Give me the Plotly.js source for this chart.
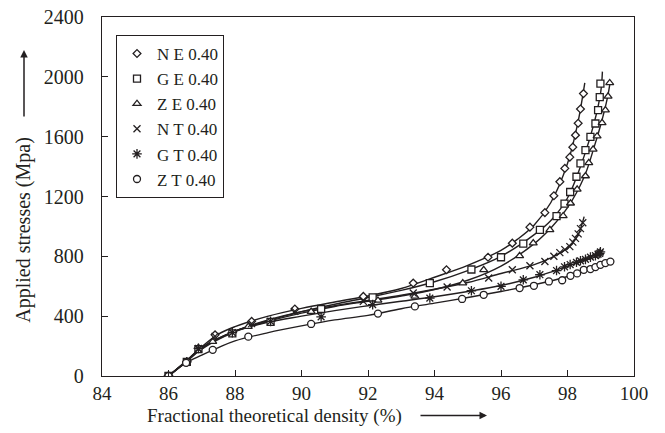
<!DOCTYPE html>
<html>
<head>
<meta charset="utf-8">
<script src="https://cdn.plot.ly/plotly-3.0.1.min.js"></script>
<style>html,body{margin:0;padding:0;background:#fff;}#chart{width:665px;height:433px;}</style>
</head>
<body>
<div id="chart"></div>
<script>
// ---- Data ----
const seriesNames = ["N E 0.40", "G E 0.40", "Z E 0.40", "N T 0.40", "G T 0.40", "Z T 0.40"];

// measured points (markers)
const neX = [86, 86.55, 86.9, 87.4, 88.5, 89.8, 91.86, 93.36, 94.36, 95.61, 96.34, 96.87, 97.32, 97.59, 97.77, 97.92, 98.07, 98.16, 98.24, 98.32, 98.39, 98.48];
const neY = [0, 95, 185, 275, 365, 448, 532, 621, 710, 794, 888, 995, 1092, 1205, 1299, 1388, 1463, 1530, 1610, 1690, 1785, 1888];

const geX = [86, 86.55, 86.9, 87.92, 89.07, 90.59, 92.14, 93.86, 95.11, 96.0, 96.67, 97.17, 97.67, 97.91, 98.08, 98.27, 98.39, 98.54, 98.69, 98.84, 98.92, 98.97, 98.99];
const geY = [0, 95, 180, 285, 362, 448, 526, 621, 712, 794, 885, 977, 1069, 1152, 1230, 1332, 1421, 1510, 1599, 1688, 1777, 1865, 1955];

const zeX = [86, 86.53, 87.33, 88.4, 90.29, 92.3, 93.41, 94.85, 95.48, 96.56, 96.97, 97.47, 97.87, 98.09, 98.29, 98.54, 98.64, 98.77, 98.89, 99.04, 99.14, 99.22, 99.27];
const zeY = [0, 88, 230, 330, 430, 505, 532, 621, 710, 803, 888, 977, 1070, 1155, 1248, 1337, 1425, 1515, 1603, 1692, 1777, 1870, 1959];

const ntX = [86, 86.55, 86.9, 87.4, 88.5, 89.8, 91.86, 93.36, 94.38, 95.63, 96.34, 96.87, 97.32, 97.59, 97.77, 97.92, 98.07, 98.16, 98.24, 98.32, 98.39, 98.46];
const ntY = [0, 92, 180, 265, 350, 432, 499, 555, 595, 655, 710, 737, 765, 800, 825, 845, 865, 895, 920, 950, 985, 1025];

const gtX = [86, 86.55, 86.9, 87.92, 89.07, 90.59, 92.14, 93.86, 95.11, 96.0, 96.67, 97.17, 97.67, 97.91, 98.08, 98.27, 98.39, 98.54, 98.69, 98.84, 98.92, 98.97, 98.99];
const gtY = [0, 95, 185, 290, 365, 395, 477, 521, 570, 599, 643, 677, 705, 730, 745, 760, 770, 780, 795, 805, 815, 820, 830];

const ztX = [86, 86.53, 87.33, 88.4, 90.29, 92.3, 93.41, 94.83, 95.48, 96.56, 96.99, 97.44, 97.84, 98.09, 98.29, 98.49, 98.69, 98.84, 98.99, 99.14, 99.29];
const ztY = [0, 88, 175, 263, 348, 417, 465, 515, 543, 588, 603, 632, 640, 670, 686, 710, 715, 728, 743, 755, 765];

// fitted curves
const neFitX = [86, 86.5, 87, 87.5, 88, 89, 90, 91, 92, 93, 94, 95, 96, 96.5, 97, 97.5, 98, 98.3, 98.52];
const neFitY = [0, 95, 195, 280, 330, 400, 452, 495, 535, 585, 660, 740, 840, 915, 1010, 1160, 1420, 1680, 1960];

const geFitX = [86, 86.5, 87, 88, 89, 90, 91, 92, 93, 94, 95, 96, 97, 97.5, 98, 98.5, 98.8, 99, 99.05];
const geFitY = [0, 92, 190, 300, 370, 430, 480, 525, 572, 630, 705, 800, 945, 1040, 1190, 1470, 1690, 1900, 2035];

const zeFitX = [86, 86.5, 87, 88, 89, 90, 91, 92, 93, 94, 95, 96, 97, 97.5, 98, 98.5, 98.8, 99, 99.2, 99.28];
const zeFitY = [0, 88, 180, 295, 365, 420, 465, 500, 535, 578, 640, 735, 885, 990, 1125, 1330, 1530, 1680, 1860, 1960];

const ntFitX = [86, 86.5, 87, 88, 89, 90, 91, 92, 93, 94, 95, 96, 97, 97.5, 98, 98.3, 98.5];
const ntFitY = [0, 90, 185, 300, 375, 430, 470, 505, 540, 580, 625, 685, 745, 790, 855, 935, 1065];

const gtFitX = [86, 86.5, 87, 88, 89, 90, 91, 92, 93, 94, 95, 96, 97, 97.5, 98, 98.5, 99];
const gtFitY = [0, 92, 190, 300, 360, 400, 437, 470, 500, 530, 565, 605, 660, 695, 735, 775, 830];

const ztFitX = [86, 86.5, 87, 87.5, 88, 89, 90, 91, 92, 93, 94, 95, 96, 97, 97.5, 98, 98.5, 99, 99.3];
const ztFitY = [0, 85, 140, 190, 235, 290, 335, 375, 405, 450, 487, 525, 565, 610, 635, 665, 700, 745, 770];

const xTicks = [84, 86, 88, 90, 92, 94, 96, 98, 100];
const yTicks = [0, 400, 800, 1200, 1600, 2000, 2400];

// ---- Build traces ----
const ink = "#231f20";
const serif = "Liberation Serif, Times New Roman, serif";
const pts = [[neX, neY], [geX, geY], [zeX, zeY], [ntX, ntY], [gtX, gtY], [ztX, ztY]];
const fits = [[neFitX, neFitY], [geFitX, geFitY], [zeFitX, zeFitY], [ntFitX, ntFitY], [gtFitX, gtFitY], [ztFitX, ztFitY]];
const symbols = ["diamond", "square", "triangle-up", "x-thin-open", "asterisk-open", "circle"];
const sizes = [6, 7, 7, 7, 8, 7];

const traces = [];
fits.forEach((f, i) => {
  traces.push({
    x: f[0], y: f[1], type: "scatter", mode: "lines",
    line: {color: ink, width: 1.4, shape: "spline", smoothing: 1},
    showlegend: false, hoverinfo: "skip"
  });
});
pts.forEach((p, i) => {
  const lineOnly = symbols[i].endsWith("-open");
  traces.push({
    x: p[0], y: p[1], type: "scatter", mode: "markers", name: seriesNames[i],
    marker: {
      symbol: symbols[i], size: sizes[i],
      color: lineOnly ? ink : "#ffffff",
      line: {color: ink, width: 1.3}
    }
  });
});

const px2x = px => (px - 102) / 532;
const py2y = py => (376.5 - py) / 359.5;

const layout = {
  width: 665, height: 433,
  margin: {l: 102, r: 31, t: 17, b: 56.5},
  paper_bgcolor: "#ffffff", plot_bgcolor: "#ffffff",
  font: {family: serif, color: ink, size: 19},
  showlegend: true,
  legend: {
    x: px2x(116), y: py2y(35), xanchor: "left", yanchor: "top",
    bordercolor: ink, borderwidth: 1, bgcolor: "#ffffff",
    font: {family: serif, size: 17, color: ink},
    itemwidth: 30, tracegroupgap: 0, entrywidth: 125, entrywidthmode: "pixels"
  },
  xaxis: {
    range: [84, 100], tickvals: xTicks, ticktext: xTicks.map(String),
    ticks: "inside", ticklen: 6, tickwidth: 1, tickcolor: ink,
    showline: true, linecolor: ink, linewidth: 1.2, mirror: true,
    showgrid: false, zeroline: false,
    tickfont: {family: serif, size: 19, color: ink}, ticklabelstandoff: 0
  },
  yaxis: {
    range: [0, 2400], tickvals: yTicks, ticktext: yTicks.map(String),
    ticks: "inside", ticklen: 6, tickwidth: 1, tickcolor: ink,
    showline: true, linecolor: ink, linewidth: 1.2, mirror: true,
    showgrid: false, zeroline: false,
    tickfont: {family: serif, size: 20, color: ink}, ticklabelstandoff: 13
  },
  annotations: [
    {text: "Applied stresses (Mpa)", textangle: -90, xref: "paper", yref: "paper",
     x: px2x(24), y: py2y(230), xanchor: "center", yanchor: "middle", showarrow: false,
     font: {family: serif, size: 20, color: ink}},
    {text: "", xref: "paper", yref: "paper", x: px2x(24), y: py2y(50),
     showarrow: true, axref: "pixel", ayref: "pixel", ax: 0, ay: 68,
     arrowhead: 2, arrowsize: 1, arrowwidth: 1.5, arrowcolor: ink},
    {text: "Fractional theoretical density (%)", xref: "paper", yref: "paper",
     x: px2x(274), y: py2y(417), xanchor: "center", yanchor: "middle", showarrow: false,
     font: {family: serif, size: 19, color: ink}},
    {text: "", xref: "paper", yref: "paper", x: px2x(487), y: py2y(416),
     showarrow: true, axref: "pixel", ayref: "pixel", ax: -68, ay: 0,
     arrowhead: 2, arrowsize: 1, arrowwidth: 1.5, arrowcolor: ink}
  ]
};

Plotly.newPlot("chart", traces, layout, {staticPlot: true, displayModeBar: false});
</script>
</body>
</html>
